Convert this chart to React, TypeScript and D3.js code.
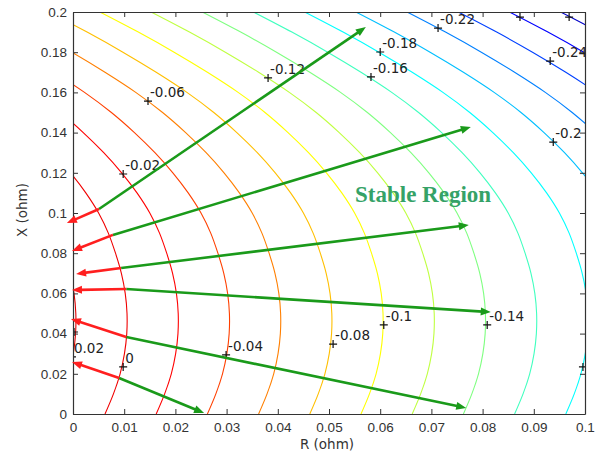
import React, { useEffect, useRef } from "react";
import * as d3 from "d3";

// value of the surface along the left axis (R = 0), read where the contours cut it
const profileX = [0, 0.01, 0.02, 0.03, 0.04, 0.05, 0.06, 0.07, 0.08, 0.09, 0.1,
  0.11, 0.12, 0.13, 0.14, 0.15, 0.16, 0.17, 0.18, 0.19, 0.2];
const profileF = [0.0125, 0.0158, 0.0184, 0.0201, 0.021, 0.0211, 0.0204, 0.0189, 0.0166, 0.0138, 0.01,
  0.005, -0.001, -0.008, -0.016, -0.025, -0.0355, -0.0475, -0.0605, -0.0745, -0.0895];
// contours are 0.01 ohm apart along R for every 0.02 step
const slopeR = 2;
const levels = [0.02, 0, -0.02, -0.04, -0.06, -0.08, -0.1, -0.12, -0.14, -0.16, -0.18, -0.2, -0.22, -0.24, -0.26, -0.28];

// clabel markers (empty text = only the "+" shows)
const labelText = ["-0.02", "-0.06", "-0.12", "-0.16", "-0.18", "-0.22", "-0.24", "-0.2", "-0.26", "-0.28",
  "0", "0.02", "", "-0.04", "-0.08", "-0.1", "-0.14", ""];
const labelR = [0.0098, 0.01465, 0.0381, 0.0582, 0.06, 0.0713, 0.0932, 0.0938, 0.0873, 0.0969,
  0.0098, -0.0002, 0.0002, 0.0299, 0.0508, 0.0607, 0.0809, 0.0996];
const labelX = [0.1194, 0.1557, 0.1672, 0.1677, 0.1801, 0.192, 0.1756, 0.1353, 0.1975, 0.1975,
  0.0234, 0.0284, 0.0408, 0.0294, 0.0348, 0.0443, 0.0443, 0.0234];

// arrows: common start on the 0 contour, green outwards, red to the X axis
const arrowStartR = [0.00508, 0.0078, 0.0094, 0.0104, 0.0104, 0.009];
const arrowStartX = [0.102, 0.0891, 0.0726, 0.0622, 0.0383, 0.0179];
const greenEndR = [0.0572, 0.0777, 0.0773, 0.0816, 0.0768, 0.0256];
const greenEndX = [0.1925, 0.1428, 0.094, 0.0507, 0.003, 0.0005];
const redEndR = [-0.0012, -0.0002, 0.0006, -0.0002, -0.0004, -0.0002];
const redEndX = [0.095, 0.0811, 0.0697, 0.0617, 0.0473, 0.0259];

const W = 606, H = 459;
const plot = { left: 73, right: 585, top: 12, bottom: 414 };
const font = "DejaVu Sans, sans-serif";

const App = () => {
  const ref = useRef<SVGSVGElement>(null);

  useEffect(() => {
    const svg = d3.select(ref.current);
    svg.selectAll("*").remove();

    const x = d3.scaleLinear().domain([0, 0.1]).range([plot.left, plot.right]);
    const y = d3.scaleLinear().domain([0, 0.2]).range([plot.bottom, plot.top]);
    const jet = d3
      .scaleLinear<string>()
      .domain([-0.3, -0.26, -0.18, -0.1, -0.02, 0.02])
      .range(["#00008f", "#0000ff", "#00ffff", "#ffff00", "#ff0000", "#e00000"])
      .clamp(true);

    const defs = svg.append("defs");
    defs
      .append("clipPath")
      .attr("id", "plotclip")
      .append("rect")
      .attr("x", plot.left)
      .attr("y", plot.top)
      .attr("width", plot.right - plot.left)
      .attr("height", plot.bottom - plot.top);

    svg.append("rect").attr("width", W).attr("height", H).attr("fill", "#fff");

    // contour lines
    const line = d3
      .line<[number, number]>()
      .x((d) => x(d[0]))
      .y((d) => y(d[1]))
      .curve(d3.curveCatmullRom.alpha(0.5));
    const cg = svg.append("g").attr("clip-path", "url(#plotclip)");
    levels.forEach((lv) => {
      const pts = profileX.map((px, i) => [(profileF[i] - lv) / slopeR, px] as [number, number]);
      cg.append("path")
        .attr("d", line(pts))
        .attr("fill", "none")
        .attr("stroke", jet(lv))
        .attr("stroke-width", 1.1);
    });

    // clabel "+" and text
    const lg = svg.append("g").attr("clip-path", "url(#plotclip)");
    labelText.forEach((t, i) => {
      const px = x(labelR[i]),
        py = y(labelX[i]);
      lg.append("path")
        .attr("d", `M${px - 4},${py}H${px + 4}M${px},${py - 4}V${py + 4}`)
        .attr("stroke", "#111")
        .attr("stroke-width", 1.2);
      if (t)
        lg.append("text")
          .attr("x", px + 2)
          .attr("y", py - 4)
          .attr("font-family", font)
          .attr("font-size", 13.5)
          .attr("fill", "#222")
          .text(t);
    });

    // axes
    const fmt = d3.format("~g");
    const ax = svg.append("g").attr("font-family", font);
    const bottom = ax
      .append("g")
      .attr("transform", `translate(0,${plot.bottom})`)
      .call(d3.axisBottom(x).ticks(10).tickFormat(fmt).tickSizeInner(-5).tickSizeOuter(0).tickPadding(8));
    const left = ax
      .append("g")
      .attr("transform", `translate(${plot.left},0)`)
      .call(d3.axisLeft(y).ticks(10).tickFormat(fmt).tickSizeInner(-5).tickSizeOuter(0).tickPadding(6));
    ax.append("g")
      .attr("transform", `translate(0,${plot.top})`)
      .call(d3.axisTop(x).ticks(10).tickFormat(() => "").tickSizeInner(-5).tickSizeOuter(0));
    ax.append("g")
      .attr("transform", `translate(${plot.right},0)`)
      .call(d3.axisRight(y).ticks(10).tickFormat(() => "").tickSizeInner(-5).tickSizeOuter(0));
    ax.selectAll(".domain").attr("stroke", "#333").attr("stroke-width", 1.2);
    ax.selectAll(".tick line").attr("stroke", "#333");
    [bottom, left].forEach((g) =>
      g.selectAll(".tick text").attr("font-size", 13.5).attr("fill", "#333")
    );

    ax.append("text")
      .attr("x", (plot.left + plot.right) / 2 - 2)
      .attr("y", 449)
      .attr("text-anchor", "middle")
      .attr("font-size", 13.5)
      .attr("fill", "#333")
      .text("R (ohm)");
    ax.append("text")
      .attr("transform", `translate(27,210) rotate(-90)`)
      .attr("text-anchor", "middle")
      .attr("font-size", 13.5)
      .attr("fill", "#333")
      .text("X (ohm)");

    // arrows
    const ag = svg.append("g");
    const arrow = (r0: number, x0: number, r1: number, x1: number, color: string) => {
      const sx = x(r0), sy = y(x0), ex = x(r1), ey = y(x1);
      const len = Math.hypot(ex - sx, ey - sy);
      const ux = (ex - sx) / len, uy = (ey - sy) / len;
      const head = 10, half = 4;
      const bx = ex - ux * head, by = ey - uy * head;
      ag.append("line")
        .attr("x1", sx).attr("y1", sy)
        .attr("x2", bx + ux * 2).attr("y2", by + uy * 2)
        .attr("stroke", color)
        .attr("stroke-width", 2.6);
      ag.append("path")
        .attr("d", `M${ex},${ey}L${bx - uy * half},${by + ux * half}L${bx + uy * half},${by - ux * half}Z`)
        .attr("fill", color);
    };
    arrowStartR.forEach((r0, i) => {
      arrow(r0, arrowStartX[i], greenEndR[i], greenEndX[i], "#1a9a1a");
      arrow(r0, arrowStartX[i], redEndR[i], redEndX[i], "#ff1f1f");
    });

    svg.append("text")
      .attr("x", 355)
      .attr("y", 202)
      .attr("font-family", "Liberation Serif, Times New Roman, serif")
      .attr("font-weight", "bold")
      .attr("font-size", 23)
      .attr("fill", "#35a267")
      .text("Stable Region");
  }, []);

  return (
    <svg
      ref={ref}
      width={W}
      height={H}
      style={{ position: "absolute", left: 0, top: 0 }}
    ></svg>
  );
};

export default App;
